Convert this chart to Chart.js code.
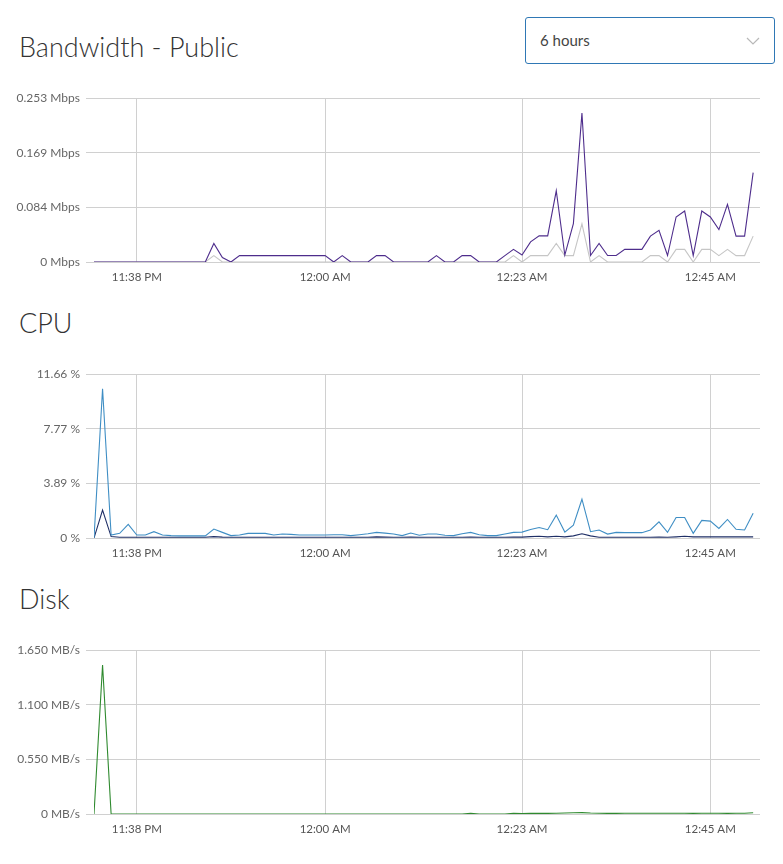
<!DOCTYPE html>
<html>
<head>
<meta charset="utf-8">
<script src="https://cdn.jsdelivr.net/npm/chart.js@4.4.1/dist/chart.umd.min.js"></script>
<style>
    body { margin: 0; background: #fff; font-family: Lato, "Open Sans", sans-serif; }
    .page { position: relative; width: 783px; height: 864px; overflow: hidden; }
    .title { position: absolute; left: 19px; font-size: 27px; color: #333; font-weight: 300; line-height: 30px; }
    .box { position: absolute; left: 0; width: 770px; }
    .select {
        position: absolute; left: 525px; top: 17px; width: 248px; height: 45px;
        border: 1px solid #2f78b5; border-radius: 3px; box-sizing: content-box;
    }
    .select span { position: absolute; left: 14px; top: 13px; font-size: 15px; color: #444; }
    .select svg { position: absolute; right: 14px; top: 19px; }
</style>
</head>
<body>
<div class="page">
    <div class="title" style="top:32px">Bandwidth - Public</div>
    <div class="select">
        <span>6 hours</span>
        <svg width="14" height="8" viewBox="0 0 14 8"><polyline points="1,1 7,7 13,1" fill="none" stroke="#b8b8b8" stroke-width="1.2"/></svg>
    </div>
    <div class="box" style="top:85px;height:207px"><canvas id="bandwidthChart"></canvas></div>

    <div class="title" style="top:308px">CPU</div>
    <div class="box" style="top:361px;height:207px"><canvas id="cpuChart"></canvas></div>

    <div class="title" style="top:584px">Disk</div>
    <div class="box" style="top:637px;height:207px"><canvas id="diskChart"></canvas></div>
</div>

<script>
// one sample per minute, 11:33 PM .. 12:50 AM
const xTickIndex = [5, 27, 50, 72];
const xTickLabels = ['11:38 PM', '12:00 AM', '12:23 AM', '12:45 AM'];

const bwInbound = [
    0, 0, 0, 0, 0, 0, 0, 0, 0, 0, 0, 0, 0, 0, 0.0287, 0.0069, 0, 0.0099, 0.0099, 0.0099,
    0.0099, 0.0099, 0.0099, 0.0099, 0.0099, 0.0099, 0.0099, 0.0099, 0, 0.0099, 0, 0, 0, 0.0099, 0.0099, 0,
    0, 0, 0, 0, 0.0099, 0, 0, 0.0099, 0.0099, 0, 0, 0, 0.0099, 0.0195, 0.0107, 0.0311,
    0.0403, 0.0403, 0.110, 0.0107, 0.0593, 0.230, 0.0100, 0.0287, 0.0100, 0.0100, 0.0195, 0.0195, 0.0195, 0.040,
    0.049, 0.010, 0.0695, 0.0787, 0.010, 0.0787, 0.0695, 0.050, 0.089, 0.040, 0.040, 0.138
];
const bwOutbound = [
    0, 0, 0, 0, 0, 0, 0, 0, 0, 0, 0, 0, 0, 0, 0.0099, 0, 0, 0, 0, 0,
    0, 0, 0, 0, 0, 0, 0, 0, 0, 0, 0, 0, 0, 0, 0, 0,
    0, 0, 0, 0, 0, 0, 0, 0, 0, 0, 0, 0, 0, 0.0099, 0, 0.0099,
    0.0099, 0.0099, 0.0287, 0.0099, 0.0099, 0.059, 0, 0.0099, 0, 0, 0, 0, 0, 0.0099,
    0.0099, 0, 0.0195, 0.0195, 0, 0.0195, 0.0195, 0.0099, 0.0195, 0.0099, 0.0099, 0.040
];
const bwTicks = [0, 0.0843, 0.1687, 0.253];
const bwTickLabels = ['0 Mbps', '0.084 Mbps', '0.169 Mbps', '0.253 Mbps'];

const cpuTotal = [
    0, 10.62, 0.21, 0.33, 0.97, 0.21, 0.21, 0.45, 0.21, 0.17, 0.15, 0.15, 0.15, 0.15, 0.64, 0.40, 0.17, 0.21, 0.33, 0.33,
    0.33, 0.21, 0.28, 0.26, 0.21, 0.21, 0.21, 0.21, 0.23, 0.23, 0.17, 0.23, 0.30, 0.40, 0.35, 0.28,
    0.17, 0.35, 0.20, 0.28, 0.28, 0.20, 0.17, 0.30, 0.40, 0.23, 0.17, 0.17, 0.28, 0.40, 0.42, 0.61,
    0.75, 0.59, 1.63, 0.42, 0.92, 2.76, 0.45, 0.57, 0.28, 0.40, 0.38, 0.38, 0.38, 0.57,
    1.15, 0.40, 1.46, 1.46, 0.33, 1.25, 1.20, 0.68, 1.32, 0.62, 0.57, 1.76
];
const cpuSystem = [
    0, 1.98, 0.10, 0.05, 0.05, 0.05, 0.05, 0.05, 0.05, 0.05, 0.05, 0.05, 0.05, 0.05, 0.10, 0.06, 0.05, 0.05, 0.05, 0.05,
    0.05, 0.05, 0.05, 0.05, 0.05, 0.05, 0.05, 0.05, 0.05, 0.05, 0.05, 0.05, 0.05, 0.08, 0.06, 0.05,
    0.05, 0.06, 0.05, 0.05, 0.05, 0.05, 0.05, 0.05, 0.06, 0.05, 0.05, 0.05, 0.05, 0.06, 0.06, 0.10,
    0.12, 0.08, 0.12, 0.08, 0.15, 0.30, 0.15, 0.05, 0.05, 0.05, 0.05, 0.05, 0.05, 0.05,
    0.06, 0.05, 0.08, 0.12, 0.08, 0.08, 0.08, 0.08, 0.08, 0.08, 0.08, 0.08
];
const cpuTicks = [0, 3.887, 7.773, 11.66];
const cpuTickLabels = ['0 %', '3.89 %', '7.77 %', '11.66 %'];

const diskRate = [
    0, 1.50, 0, 0, 0, 0, 0, 0, 0, 0, 0, 0, 0, 0, 0, 0, 0, 0, 0, 0,
    0, 0, 0, 0, 0, 0, 0, 0, 0, 0, 0, 0, 0, 0, 0, 0,
    0, 0, 0, 0, 0, 0, 0, 0, 0.006, 0, 0, 0, 0, 0.006, 0.004, 0.008,
    0.006, 0.006, 0.008, 0.010, 0.012, 0.014, 0.010, 0.008, 0.006, 0.006, 0.008, 0.008, 0.008, 0.008,
    0.008, 0.008, 0.008, 0.008, 0.006, 0.008, 0.008, 0.008, 0.006, 0.008, 0.008, 0.012
];
const diskTicks = [0, 0.55, 1.10, 1.65];
const diskTickLabels = ['0 MB/s', '0.550 MB/s', '1.100 MB/s', '1.650 MB/s'];

const xFont = { family: 'Lato', size: 11.5 };
const yFont = { family: 'Lato', size: 12 };
const gridColor = '#d0d0d0';

const toPoints = (values) => values.map((v, i) => ({ x: i, y: v }));

const makeChart = (id, series, yTicks, yLabels) => {
    const ctx = document.getElementById(id).getContext('2d');
    return new Chart(ctx, {
        type: 'line',
        data: {
            datasets: series.map((s) => ({
                data: toPoints(s.values),
                borderColor: s.color,
                borderWidth: 1.1,
                pointRadius: 0,
                tension: 0,
                fill: false
            }))
        },
        options: {
            responsive: true,
            maintainAspectRatio: false,
            animation: false,
            layout: { padding: { top: 12, right: 10, left: 0, bottom: 0 } },
            scales: {
                x: {
                    type: 'linear',
                    min: 0,
                    max: 77.8,
                    afterBuildTicks: (scale) => {
                        scale.ticks = xTickIndex.map((v) => ({ value: v }));
                    },
                    afterFit: (scale) => { scale.height = 30; },
                    border: { display: false },
                    grid: { color: gridColor, drawTicks: false },
                    ticks: {
                        padding: 8,
                        color: '#555',
                        font: xFont,
                        maxRotation: 0,
                        callback: (value) => xTickLabels[xTickIndex.indexOf(value)]
                    }
                },
                y: {
                    min: 0,
                    max: yTicks[yTicks.length - 1],
                    afterBuildTicks: (scale) => {
                        scale.ticks = yTicks.map((v) => ({ value: v }));
                    },
                    afterFit: (scale) => { scale.width = 94; },
                    border: { display: false },
                    grid: { color: gridColor, tickLength: 8 },
                    ticks: {
                        padding: 6,
                        color: '#666',
                        font: yFont,
                        callback: (value) => yLabels[yTicks.indexOf(value)]
                    }
                }
            },
            plugins: {
                legend: { display: false },
                tooltip: { enabled: false }
            }
        }
    });
};

makeChart('bandwidthChart', [
    { values: bwInbound, color: '#4e2d8c' },
    { values: bwOutbound, color: '#c6c6c6' }
], bwTicks, bwTickLabels);

makeChart('cpuChart', [
    { values: cpuTotal, color: '#3f8ec4' },
    { values: cpuSystem, color: '#1f2f66' }
], cpuTicks, cpuTickLabels);

makeChart('diskChart', [
    { values: diskRate, color: '#2f8a2f' }
], diskTicks, diskTickLabels);
</script>
</body>
</html>
